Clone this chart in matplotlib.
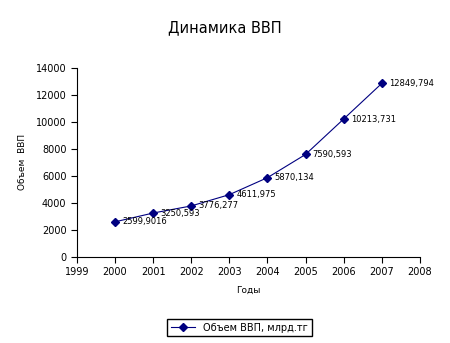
import matplotlib.pyplot as plt

years = [2000, 2001, 2002, 2003, 2004, 2005, 2006, 2007]
gdp = [2599.9016, 3250.593, 3776.277, 4611.975, 5870.134, 7590.593, 10213.731, 12849.794]
point_labels = ["2599,9016", "3250,593", "3776,277", "4611,975",
                "5870,134", "7590,593", "10213,731", "12849,794"]

fig = plt.figure(figsize=(4.5, 3.43), dpi=100)
ax = fig.add_axes([0.171, 0.251, 0.762, 0.551])

ax.plot(years, gdp, color='#000080', lw=0.8, marker='D', markersize=4,
        label='Объем ВВП, млрд.тг')
for x, y, t in zip(years, gdp, point_labels):
    ax.annotate(t, (x, y), xytext=(5, 0), textcoords='offset points',
                fontsize=6, va='center', ha='left')

ax.set_xlim(1999, 2008)
ax.set_ylim(0, 14000)
ax.set_xticks(range(1999, 2009))
ax.set_yticks(range(0, 14001, 2000))
ax.tick_params(labelsize=7, direction='out', length=4, width=0.8)
ax.spines['top'].set_visible(False)
ax.spines['right'].set_visible(False)

ax.set_xlabel('Годы', fontsize=6.5, labelpad=6)
ax.set_ylabel('Объем  ВВП', fontsize=6.5, labelpad=6)
fig.suptitle('Динамика ВВП', fontsize=10.5, y=0.918, va='center')

fig.legend(loc='center', bbox_to_anchor=(0.532, 0.045), fontsize=7,
           frameon=True, fancybox=False, edgecolor='black', framealpha=1,
           handlelength=2.5)
fig.savefig('out.png', dpi=100)
